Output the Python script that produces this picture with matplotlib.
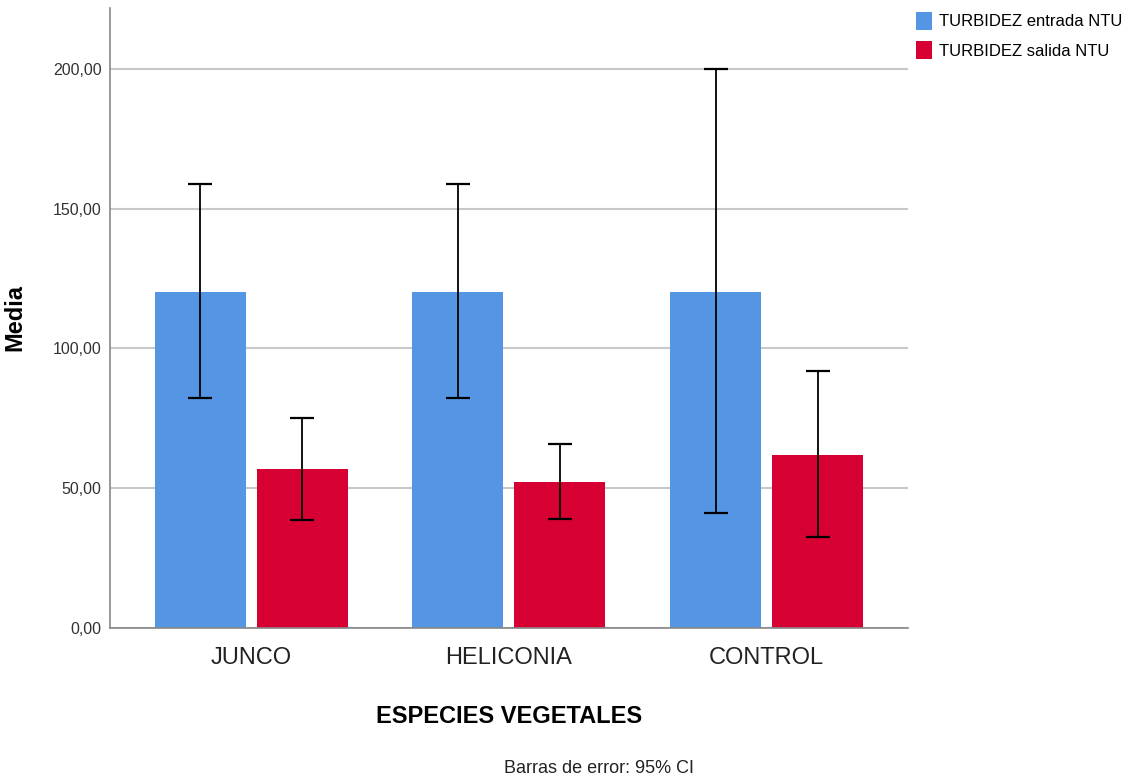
import matplotlib
matplotlib.use("Agg")
import matplotlib.pyplot as plt
import numpy as np

plt.rcParams['font.family'] = ['Liberation Sans Narrow', 'Liberation Sans', 'DejaVu Sans']

especies = ['JUNCO', 'HELICONIA', 'CONTROL']
entrada = [120.2, 120.2, 120.2]
entrada_lo = [82.3, 82.3, 41.1]
entrada_hi = [158.9, 158.9, 200.0]
salida = [56.9, 52.2, 61.9]
salida_lo = [38.6, 39.0, 32.6]
salida_hi = [75.1, 65.8, 91.9]

azul = '#5596e4'
rojo = '#d60032'

fig = plt.figure(figsize=(11.46, 7.79), dpi=100)
ax = fig.add_axes([0.096, 0.194, 0.696, 0.796])

x = np.arange(len(especies))
w = 0.353
off = 0.198

ent_err = [np.array(entrada) - np.array(entrada_lo), np.array(entrada_hi) - np.array(entrada)]
sal_err = [np.array(salida) - np.array(salida_lo), np.array(salida_hi) - np.array(salida)]

ax.bar(x - off, entrada, w, color=azul, label='TURBIDEZ entrada NTU', zorder=2)
ax.bar(x + off, salida, w, color=rojo, label='TURBIDEZ salida NTU', zorder=2)
ax.errorbar(x - off, entrada, yerr=ent_err, fmt='none', ecolor='black', elinewidth=1.3,
            capsize=8.5, capthick=1.6, zorder=3)
ax.errorbar(x + off, salida, yerr=sal_err, fmt='none', ecolor='black', elinewidth=1.3,
            capsize=8.5, capthick=1.6, zorder=3)

ax.set_xlim(-0.548, 2.547)
ax.set_ylim(0, 221.8)
ax.set_yticks([0, 50, 100, 150, 200])
ax.set_yticklabels(['0,00', '50,00', '100,00', '150,00', '200,00'], fontsize=11.5, color='#333333')
ax.set_xticks(x)
ax.set_xticklabels(especies, fontsize=17, color='#222222')
ax.tick_params(axis='x', length=0, pad=14)
ax.tick_params(axis='y', length=0, pad=6)
ax.yaxis.grid(True, color='#c8c8c8', linewidth=1.5, zorder=0)
ax.set_axisbelow(True)

for s in ['top', 'right']:
    ax.spines[s].set_visible(False)
for s in ['left', 'bottom']:
    ax.spines[s].set_color('#888888')
    ax.spines[s].set_linewidth(1.2)

ax.set_ylabel('Media', fontsize=17, fontweight='bold', labelpad=19)
ax.set_xlabel('ESPECIES VEGETALES', fontsize=17, fontweight='bold', labelpad=26)

ax.legend(loc='upper left', bbox_to_anchor=(0.998, 1.01), frameon=False, fontsize=12,
          handlelength=0.95, handleheight=1.3, handletextpad=0.45, labelspacing=0.68,
          borderaxespad=0.2)

fig.text(0.523, 0.002, 'Barras de error: 95% CI', ha='center', va='bottom', fontsize=13,
         color='#222222')

fig.savefig('out.png', dpi=100)
